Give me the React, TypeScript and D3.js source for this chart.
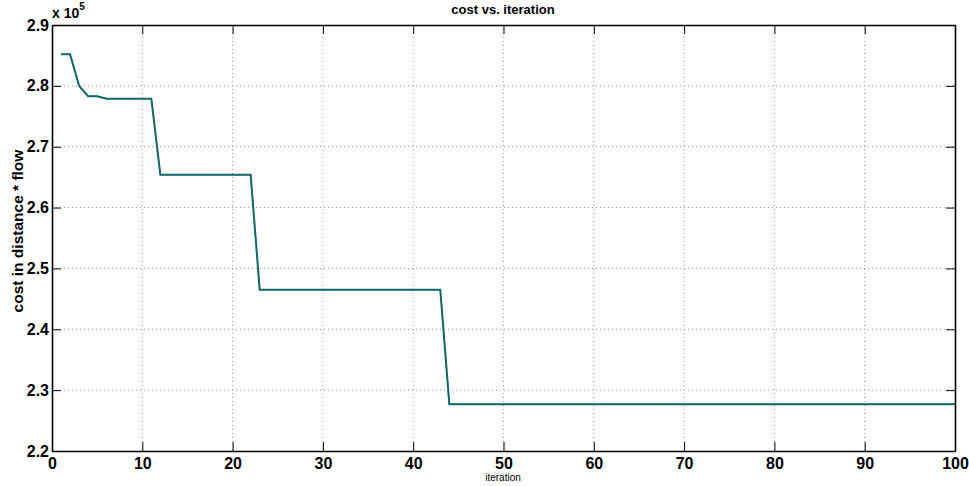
import React, { useEffect, useRef } from "react";
import * as d3 from "d3";

// cost per iteration (x 10^5)
const iterations = d3.range(1, 101);
const costs = [
  2.852, 2.852, 2.8, 2.783, 2.783, 2.779, 2.779, 2.779, 2.779, 2.779, 2.779,
  2.654, 2.654, 2.654, 2.654, 2.654, 2.654, 2.654, 2.654, 2.654, 2.654, 2.654,
  2.465, 2.465, 2.465, 2.465, 2.465, 2.465, 2.465, 2.465, 2.465, 2.465, 2.465,
  2.465, 2.465, 2.465, 2.465, 2.465, 2.465, 2.465, 2.465, 2.465, 2.465,
  2.277, 2.277, 2.277, 2.277, 2.277, 2.277, 2.277, 2.277, 2.277, 2.277, 2.277,
  2.277, 2.277, 2.277, 2.277, 2.277, 2.277, 2.277, 2.277, 2.277, 2.277, 2.277,
  2.277, 2.277, 2.277, 2.277, 2.277, 2.277, 2.277, 2.277, 2.277, 2.277, 2.277,
  2.277, 2.277, 2.277, 2.277, 2.277, 2.277, 2.277, 2.277, 2.277, 2.277, 2.277,
  2.277, 2.277, 2.277, 2.277, 2.277, 2.277, 2.277, 2.277, 2.277, 2.277, 2.277,
  2.277, 2.277,
];
const xTicks = [0, 10, 20, 30, 40, 50, 60, 70, 80, 90, 100];
const yTicks = [2.2, 2.3, 2.4, 2.5, 2.6, 2.7, 2.8, 2.9];

const width = 969;
const height = 486;
const left = 52;
const right = 955;
const top = 25;
const bottom = 451;
const font = "'Liberation Sans', Arial, Helvetica, sans-serif";

const App = () => {
  const ref = useRef<SVGSVGElement>(null);

  useEffect(() => {
    const svg = d3.select(ref.current);
    svg.selectAll("*").remove();

    const x = d3.scaleLinear().domain([0, 100]).range([left, right]);
    const y = d3.scaleLinear().domain([2.2, 2.9]).range([bottom, top]);

    // grid
    const grid = svg.append("g").attr("stroke", "#999").attr("stroke-dasharray", "1,3");
    grid
      .selectAll("line.gx")
      .data(xTicks.slice(1, -1))
      .enter()
      .append("line")
      .attr("x1", (d) => x(d))
      .attr("x2", (d) => x(d))
      .attr("y1", top)
      .attr("y2", bottom);
    grid
      .selectAll("line.gy")
      .data(yTicks.slice(1, -1))
      .enter()
      .append("line")
      .attr("x1", left)
      .attr("x2", right)
      .attr("y1", (d) => y(d))
      .attr("y2", (d) => y(d));

    // inward ticks on all four sides
    const tickLen = 9;
    const bottomAxis = d3.axisBottom(x).tickValues(xTicks).tickSizeInner(-tickLen).tickSizeOuter(0).tickFormat(d3.format("d"));
    const topAxis = d3.axisTop(x).tickValues(xTicks).tickSizeInner(-tickLen).tickSizeOuter(0).tickFormat(() => "");
    const leftAxis = d3.axisLeft(y).tickValues(yTicks).tickSizeInner(-tickLen).tickSizeOuter(0).tickFormat(d3.format(".1f"));
    const rightAxis = d3.axisRight(y).tickValues(yTicks).tickSizeInner(-tickLen).tickSizeOuter(0).tickFormat(() => "");

    const style = (g: any) => {
      g.select(".domain").attr("stroke", "#000").attr("stroke-width", 1.6);
      g.selectAll(".tick line").attr("stroke", "#000");
      g.selectAll("text")
        .attr("font-family", font)
        .attr("font-weight", "bold")
        .attr("font-size", 16)
        .attr("fill", "#000");
    };

    const gb = svg.append("g").attr("transform", `translate(0,${bottom})`).call(bottomAxis);
    style(gb);
    gb.selectAll(".tick text").attr("y", 7);
    style(svg.append("g").attr("transform", `translate(0,${top})`).call(topAxis));
    const gl = svg.append("g").attr("transform", `translate(${left},0)`).call(leftAxis);
    style(gl);
    gl.selectAll(".tick text").attr("x", -3);
    style(svg.append("g").attr("transform", `translate(${right},0)`).call(rightAxis));

    // line
    const line = d3
      .line<number>()
      .x((d, i) => x(iterations[i]))
      .y((d) => y(d));
    svg.append("path").datum(costs).attr("d", line).attr("fill", "none").attr("stroke", "#1f5f9a").attr("stroke-width", 2);
    svg.append("path").datum(costs).attr("d", line).attr("fill", "none").attr("stroke", "#0a7a2a").attr("stroke-width", 1.2).attr("opacity", 0.75);

    // labels
    svg.append("text").attr("x", 503).attr("y", 14).attr("text-anchor", "middle")
      .attr("font-family", font).attr("font-weight", "bold").attr("font-size", 13).text("cost vs. iteration");
    svg.append("text").attr("x", 503).attr("y", 481).attr("text-anchor", "middle")
      .attr("font-family", font).attr("font-size", 10).text("iteration");
    svg.append("text").attr("transform", "translate(23,231) rotate(-90)").attr("text-anchor", "middle")
      .attr("font-family", font).attr("font-weight", "bold").attr("font-size", 15.5).text("cost in distance * flow");
    const exp = svg.append("text").attr("x", 52).attr("y", 18)
      .attr("font-family", font).attr("font-weight", "bold").attr("font-size", 14);
    exp.append("tspan").text("x 10");
    exp.append("tspan").attr("dy", -8).attr("font-size", 10).text("5");
  }, []);

  return <svg ref={ref} width={width} height={height} style={{ position: "absolute", left: 0, top: 0, background: "#fff" }} />;
};

export default App;
